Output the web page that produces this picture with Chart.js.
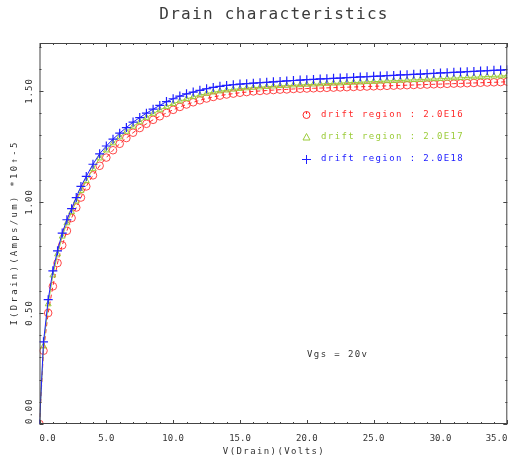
<!DOCTYPE html>
<html>
<head>
<meta charset="utf-8">
<script src="https://cdn.jsdelivr.net/npm/chart.js@4/dist/chart.umd.min.js"></script>
<style>
  body { margin: 0; background: #fff; overflow: hidden; }
  #wrap { width: 511px; height: 461px; overflow: hidden; }
</style>
</head>
<body>
<div id="wrap"><canvas id="chart" width="513" height="461"></canvas></div>
<script>
// drain voltage sweep (V)
const vDrain = [0, 0.3, 0.65, 1.0, 1.35, 1.7, 2.05, 2.4, 2.75, 3.1,
  3.5, 4.0, 4.5, 5.0, 5.5, 6.0, 6.5, 7.0, 7.5, 8.0,
  8.5, 9.0, 9.5, 10.0, 10.5, 11.0, 11.5, 12.0, 12.5, 13.0,
  13.5, 14.0, 14.5, 15.0, 15.5, 16.0, 16.5, 17.0, 17.5, 18.0,
  18.5, 19.0, 19.5, 20.0, 20.5, 21.0, 21.5, 22.0, 22.5, 23.0,
  23.5, 24.0, 24.5, 25.0, 25.5, 26.0, 26.5, 27.0, 27.5, 28.0,
  28.5, 29.0, 29.5, 30.0, 30.5, 31.0, 31.5, 32.0, 32.5, 33.0,
  33.5, 34.0, 34.5, 35.0]

// drain current (*1e-5 A/um), one per drift doping
const idE16 = [0, 0.33, 0.50, 0.62, 0.725, 0.805, 0.87, 0.928, 0.975, 1.02,
  1.07, 1.12, 1.163, 1.2, 1.233, 1.262, 1.288, 1.312, 1.333, 1.352,
  1.37, 1.386, 1.401, 1.415, 1.428, 1.439, 1.449, 1.458, 1.466, 1.473,
  1.479, 1.484, 1.488, 1.492, 1.495, 1.498, 1.500, 1.502, 1.504, 1.506,
  1.507, 1.509, 1.510, 1.511, 1.512, 1.513, 1.514, 1.515, 1.516, 1.517,
  1.518, 1.519, 1.520, 1.521, 1.522, 1.523, 1.524, 1.525, 1.526, 1.527,
  1.528, 1.529, 1.530, 1.531, 1.532, 1.533, 1.534, 1.535, 1.536, 1.537,
  1.538, 1.539, 1.540, 1.542]

const idE17 = [0, 0.35, 0.54, 0.67, 0.765, 0.845, 0.905, 0.955, 1.003, 1.05,
  1.095, 1.15, 1.197, 1.233, 1.265, 1.292, 1.317, 1.34, 1.36, 1.38,
  1.398, 1.414, 1.429, 1.442, 1.454, 1.464, 1.473, 1.481, 1.488, 1.494,
  1.499, 1.503, 1.507, 1.510, 1.513, 1.515, 1.517, 1.519, 1.521, 1.523,
  1.524, 1.526, 1.527, 1.529, 1.530, 1.531, 1.533, 1.534, 1.535, 1.537,
  1.538, 1.539, 1.541, 1.542, 1.543, 1.545, 1.546, 1.547, 1.549, 1.550,
  1.551, 1.553, 1.554, 1.555, 1.557, 1.558, 1.559, 1.561, 1.562, 1.563,
  1.565, 1.566, 1.567, 1.569]

const idE18 = [0, 0.37, 0.56, 0.69, 0.78, 0.86, 0.92, 0.97, 1.02, 1.07,
  1.115, 1.17, 1.217, 1.252, 1.283, 1.31, 1.335, 1.36, 1.38, 1.40,
  1.418, 1.435, 1.452, 1.465, 1.477, 1.487, 1.495, 1.503, 1.51, 1.516,
  1.521, 1.525, 1.528, 1.531, 1.533, 1.535, 1.537, 1.539, 1.541, 1.543,
  1.545, 1.547, 1.549, 1.551, 1.552, 1.554, 1.555, 1.557, 1.558, 1.560,
  1.561, 1.563, 1.564, 1.566, 1.567, 1.569, 1.570, 1.572, 1.573, 1.575,
  1.576, 1.578, 1.579, 1.581, 1.582, 1.584, 1.585, 1.587, 1.588, 1.590,
  1.591, 1.593, 1.594, 1.596]

const seriesNames = ['drift region : 2.0E16', 'drift region : 2.0E17', 'drift region : 2.0E18']
const xTickLabels = ['0.0', '5.0', '10.0', '15.0', '20.0', '25.0', '30.0', '35.0']
const yTickValues = [0, 0.5, 1.0, 1.5]
const yTickLabels = ['0.00', '0.50', '1.00', '1.50']

const MONO = '"DejaVu Sans Mono", "Liberation Mono", monospace'
const INK = '#333'
const RED = '#ff2a2a'
const GREEN = '#9ccc3a'
const BLUE = '#2020ff'

const toXY = (ys) => vDrain.map((v, i) => ({ x: v, y: ys[i] }))

// ticks inside the frame, text drawn by hand (spaced mono font)
const decor = {
  id: 'decor',
  afterDraw(chart) {
    const { ctx, chartArea: a } = chart
    const xs = chart.scales.x
    const ys = chart.scales.y
    ctx.save()
    ctx.strokeStyle = '#444'
    ctx.lineWidth = 1
    ctx.strokeRect(a.left + 0.5, a.top + 0.5, a.right - a.left - 1, a.bottom - a.top - 1)

    ctx.beginPath()
    for (let v = 0; v <= 35; v++) {
      const px = Math.round(xs.getPixelForValue(v)) + 0.5
      const len = v % 5 === 0 ? 4 : 2
      ctx.moveTo(px, a.bottom); ctx.lineTo(px, a.bottom - len)
      ctx.moveTo(px, a.top); ctx.lineTo(px, a.top + len)
    }
    for (let k = 0; k <= 17; k++) {
      const py = Math.round(ys.getPixelForValue(k / 10)) + 0.5
      const len = k % 5 === 0 ? 4 : 2
      ctx.moveTo(a.left, py); ctx.lineTo(a.left + len, py)
      ctx.moveTo(a.right, py); ctx.lineTo(a.right - len, py)
    }
    ctx.stroke()

    // y tick labels, rotated
    ctx.fillStyle = INK
    ctx.font = '9px ' + MONO
    ctx.letterSpacing = '1px'
    ctx.textBaseline = 'middle'
    yTickLabels.forEach((t, i) => {
      const w = ctx.measureText(t).width
      let cy = ys.getPixelForValue(yTickValues[i])
      if (i === 0) cy = a.bottom - w / 2
      ctx.save()
      ctx.translate(30, cy)
      ctx.rotate(-Math.PI / 2)
      ctx.textAlign = 'center'
      ctx.fillText(t, 0, 0)
      ctx.restore()
    })

    // title
    ctx.fillStyle = '#3a3a3a'
    ctx.font = '16px ' + MONO
    ctx.letterSpacing = '1.3px'
    ctx.textAlign = 'center'
    ctx.fillText('Drain characteristics', 274, 15)

    // axis titles
    ctx.fillStyle = INK
    ctx.font = '9px ' + MONO
    ctx.letterSpacing = '1.4px'
    ctx.fillText('V(Drain)(Volts)', 274, 452)
    ctx.save()
    ctx.translate(15, 233)
    ctx.rotate(-Math.PI / 2)
    ctx.letterSpacing = '2.3px'
    ctx.fillText('I(Drain)(Amps/um) *10\u2191-5', 0, 0)
    ctx.restore()

    // legend
    ctx.letterSpacing = '1.4px'
    ctx.textAlign = 'left'
    const rows = [115, 137, 159]
    const cols = [RED, GREEN, BLUE]
    rows.forEach((ry, i) => {
      ctx.fillStyle = cols[i]
      ctx.strokeStyle = cols[i]
      ctx.lineWidth = 1
      ctx.beginPath()
      if (i === 0) {
        ctx.arc(306.5, ry, 3.5, 0, Math.PI * 2)
        ctx.moveTo(306.5, ry - 3.5); ctx.lineTo(306.5, ry - 1)
      } else if (i === 1) {
        ctx.moveTo(306.5, ry - 3.5); ctx.lineTo(310, ry + 3); ctx.lineTo(303, ry + 3); ctx.closePath()
      } else {
        ctx.moveTo(302, ry + 0.5); ctx.lineTo(311, ry + 0.5)
        ctx.moveTo(306.5, ry - 4); ctx.lineTo(306.5, ry + 5)
      }
      ctx.stroke()
      ctx.fillText(seriesNames[i], 321, ry)
    })

    ctx.fillStyle = INK
    ctx.fillText('Vgs = 20v', 307, 355)
    ctx.restore()
  },
}

new Chart(document.getElementById('chart'), {
  type: 'line',
  data: {
    datasets: [
      {
        label: seriesNames[0],
        data: toXY(idE16),
        borderColor: RED,
        borderWidth: 1,
        borderDash: [4, 3],
        pointStyle: 'circle',
        pointRadius: 3.8,
        pointBorderColor: 'rgba(255,40,40,0.85)',
        pointBackgroundColor: 'rgba(0,0,0,0)',
        pointBorderWidth: 1,
        order: 3,
      },
      {
        label: seriesNames[1],
        data: toXY(idE17),
        borderColor: GREEN,
        borderWidth: 1,
        pointStyle: 'triangle',
        pointRadius: 3.4,
        pointBorderColor: GREEN,
        pointBackgroundColor: 'rgba(0,0,0,0)',
        pointBorderWidth: 1,
        order: 2,
      },
      {
        label: seriesNames[2],
        data: toXY(idE18),
        borderColor: BLUE,
        borderWidth: 1,
        pointStyle: 'cross',
        pointRadius: 4.5,
        pointBorderColor: BLUE,
        pointBorderWidth: 1.2,
        order: 1,
      },
    ],
  },
  options: {
    responsive: false,
    animation: false,
    devicePixelRatio: 1,
    // chart.js keeps a few px free on the right; canvas is 2px wider and cropped
    layout: { padding: { top: 43, right: 0, left: 0, bottom: 0 } },
    elements: { line: { tension: 0 } },
    plugins: { legend: { display: false }, tooltip: { enabled: false } },
    scales: {
      x: {
        type: 'linear',
        min: 0,
        max: 35,
        grid: { display: false },
        border: { display: false },
        afterFit: (s) => { s.height = 37; s.paddingLeft = 0; s.paddingRight = 0 },
        ticks: {
          stepSize: 5,
          autoSkip: false,
          maxRotation: 0,
          align: 'inner',
          padding: 1,
          color: INK,
          font: { family: MONO, size: 9 },
          callback: (v, i) => xTickLabels[i],
        },
      },
      y: {
        type: 'linear',
        min: 0,
        max: 1.716,
        grid: { display: false },
        border: { display: false },
        ticks: { display: false },
        afterFit: (s) => { s.width = 39.5 },
      },
    },
  },
  plugins: [decor],
})
</script>
</body>
</html>
